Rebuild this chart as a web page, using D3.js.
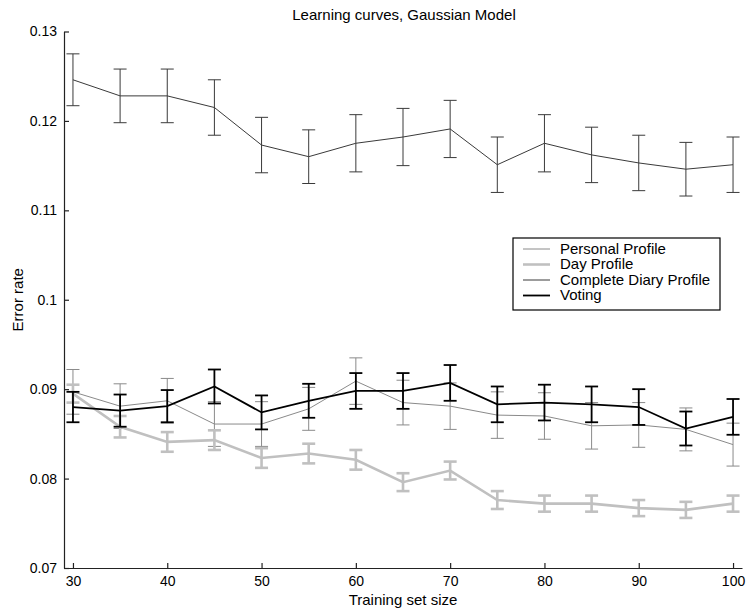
<!DOCTYPE html>
<html>
<head>
<meta charset="utf-8">
<script src="https://cdn.jsdelivr.net/npm/d3@7"></script>
<style>
  html, body { margin: 0; padding: 0; background: #fff; }
  svg { display: block; font-family: "Liberation Sans", Arial, Helvetica, sans-serif; }
</style>
</head>
<body>
<svg id="chart" width="747" height="610"></svg>
<script>
const trainingSizes = [30, 35, 40, 45, 50, 55, 60, 65, 70, 75, 80, 85, 90, 95, 100];

const personalProfile = [0.0897, 0.0881, 0.0887, 0.0861, 0.0861, 0.0878, 0.0909, 0.0885, 0.0881, 0.0871, 0.0870, 0.0859, 0.0860, 0.0855, 0.0838];
const personalErr     = [0.0025, 0.0025, 0.0025, 0.0025, 0.0025, 0.0024, 0.0026, 0.0025, 0.0026, 0.0026, 0.0026, 0.0026, 0.0025, 0.0024, 0.0024];

const dayProfile = [0.0895, 0.0858, 0.0841, 0.0843, 0.0823, 0.0828, 0.0821, 0.0796, 0.0809, 0.0776, 0.0772, 0.0772, 0.0767, 0.0765, 0.0772];
const dayErr     = [0.0010, 0.0012, 0.0011, 0.0011, 0.0011, 0.0011, 0.0011, 0.0010, 0.0010, 0.0010, 0.0009, 0.0009, 0.0009, 0.0009, 0.0009];

const completeDiary = [0.1246, 0.1228, 0.1228, 0.1215, 0.1173, 0.1160, 0.1175, 0.1182, 0.1191, 0.1151, 0.1175, 0.1162, 0.1153, 0.1146, 0.1151];
const completeErr   = [0.0029, 0.0030, 0.0030, 0.0031, 0.0031, 0.0030, 0.0032, 0.0032, 0.0032, 0.0031, 0.0032, 0.0031, 0.0031, 0.0030, 0.0031];

const voting    = [0.0880, 0.0876, 0.0881, 0.0903, 0.0874, 0.0887, 0.0898, 0.0898, 0.0907, 0.0883, 0.0885, 0.0883, 0.0880, 0.0856, 0.0869];
const votingErr = [0.0017, 0.0018, 0.0018, 0.0019, 0.0019, 0.0019, 0.0020, 0.0020, 0.0020, 0.0020, 0.0020, 0.0020, 0.0020, 0.0019, 0.0020];

const xTicks = [30, 40, 50, 60, 70, 80, 90, 100];
const yTicks = [0.07, 0.08, 0.09, 0.1, 0.11, 0.12, 0.13];
const yTickLabels = ["0.07", "0.08", "0.09", "0.1", "0.11", "0.12", "0.13"];

const titleText = "Learning curves, Gaussian Model";
const xLabel = "Training set size";
const yLabel = "Error rate";

const seriesNames = ["Personal Profile", "Day Profile", "Complete Diary Profile", "Voting"];
const seriesValues = [personalProfile, dayProfile, completeDiary, voting];
const seriesErrors = [personalErr, dayErr, completeErr, votingErr];
const seriesColors = ["#8a8a8a", "#c0c0c0", "#3a3a3a", "#000000"];
const seriesWidths = [1, 2.6, 1, 1.8];

const svg = d3.select("#chart");
const plotLeft = 64, plotRight = 742, plotTop = 31.5, plotBottom = 568;

const x = d3.scaleLinear().domain([29.05, 100.95]).range([plotLeft, plotRight]);
const y = d3.scaleLinear().domain([0.07, 0.13]).range([plotBottom, plotTop]);

// axes
const xAxis = d3.axisBottom(x).tickValues(xTicks).tickSizeInner(-5).tickSizeOuter(0).tickPadding(8)
  .tickFormat(d => String(d));
const yAxis = d3.axisLeft(y).tickValues(yTicks).tickSizeInner(-5).tickSizeOuter(0).tickPadding(7)
  .tickFormat((d, i) => yTickLabels[i]);

const gx = svg.append("g").attr("transform", `translate(0,${plotBottom})`).call(xAxis);
const gy = svg.append("g").attr("transform", `translate(${plotLeft},0)`).call(yAxis);
[gx, gy].forEach(g => {
  g.selectAll("path.domain").attr("stroke", "#222").attr("stroke-width", 1.2);
  g.selectAll(".tick line").attr("stroke", "#222").attr("stroke-width", 1.2);
  g.selectAll(".tick text").attr("font-size", 14).attr("fill", "#000")
    .attr("font-family", "'Liberation Sans', Arial, sans-serif");
});

// series
const line = d3.line().x((d, i) => x(trainingSizes[i])).y(d => y(d));
const capHalf = 6.5;

seriesValues.forEach((vals, s) => {
  const g = svg.append("g");
  const col = seriesColors[s], w = seriesWidths[s], errs = seriesErrors[s];
  g.append("path").datum(vals).attr("d", line).attr("fill", "none")
    .attr("stroke", col).attr("stroke-width", w);
  vals.forEach((v, i) => {
    const cx = x(trainingSizes[i]);
    const y1 = y(v + errs[i]), y2 = y(v - errs[i]);
    g.append("line").attr("x1", cx).attr("x2", cx).attr("y1", y1).attr("y2", y2)
      .attr("stroke", col).attr("stroke-width", w);
    [y1, y2].forEach(yy => g.append("line").attr("x1", cx - capHalf).attr("x2", cx + capHalf)
      .attr("y1", yy).attr("y2", yy).attr("stroke", col).attr("stroke-width", w));
  });
});

// title and labels
svg.append("text").attr("x", (plotLeft + plotRight) / 2 + 1).attr("y", 20).attr("text-anchor", "middle")
  .attr("font-size", 15).text(titleText);
svg.append("text").attr("x", (plotLeft + plotRight) / 2).attr("y", 605).attr("text-anchor", "middle")
  .attr("font-size", 15).text(xLabel);
svg.append("text").attr("transform", `translate(23,${(plotTop + plotBottom) / 2}) rotate(-90)`)
  .attr("text-anchor", "middle").attr("font-size", 15).text(yLabel);

// legend
const lg = svg.append("g").attr("transform", "translate(513,238)");
lg.append("rect").attr("x", 0).attr("y", 0).attr("width", 207).attr("height", 72)
  .attr("fill", "#fff").attr("stroke", "#000").attr("stroke-width", 1.2);
seriesNames.forEach((name, i) => {
  const yy = 11 + i * 15.5;
  lg.append("line").attr("x1", 10).attr("x2", 37).attr("y1", yy).attr("y2", yy)
    .attr("stroke", seriesColors[i]).attr("stroke-width", seriesWidths[i]);
  lg.append("text").attr("x", 47).attr("y", yy + 4.6).attr("font-size", 15).text(name);
});
</script>
</body>
</html>
